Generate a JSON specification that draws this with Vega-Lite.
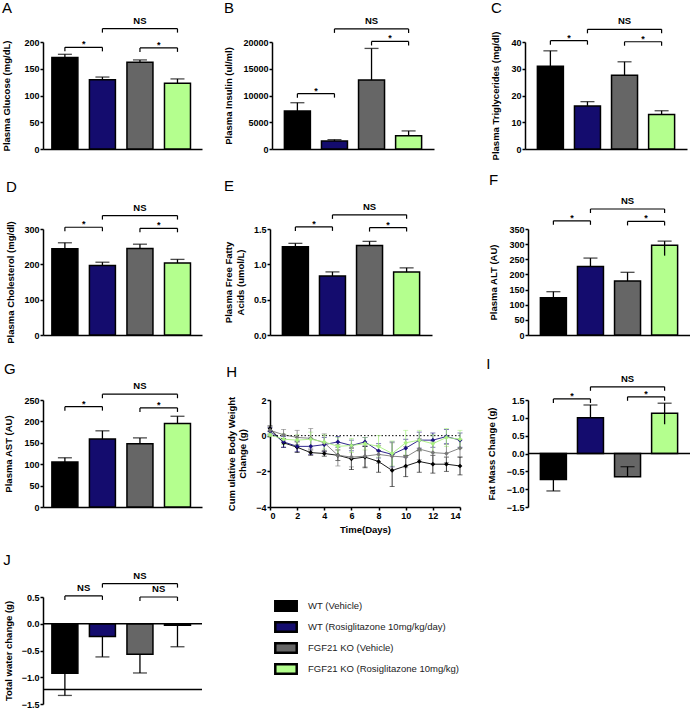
{
"$schema": "https://vega.github.io/schema/vega-lite/v6.json",
"padding": {"left": 1, "top": 0, "right": 0, "bottom": 0},
"background": "white",
"resolve": {"legend": {"fill": "independent"}},
"config": {
  "font": "Liberation Sans",
  "view": {"stroke": null},
  "title": {"fontSize": 15, "fontWeight": "normal", "anchor": "start", "color": "black", "font": "Liberation Sans"},
  "axis": {"domainColor": "black", "domainWidth": 1.5, "tickColor": "black", "tickWidth": 1.5, "tickSize": 3, "labelPadding": 1, "labelFontSize": 9, "labelFontWeight": "bold", "labelColor": "black", "titleFontSize": 9.5, "titleFontWeight": "bold", "titleColor": "black", "grid": false, "labelFont": "Liberation Sans", "titleFont": "Liberation Sans"}
},
"datasets": {
  "bars": [
    {"panel": "A", "g": 1, "group": "WT (Vehicle)", "mean": 171, "cap": 177, "tail": 171},
    {"panel": "A", "g": 2, "group": "WT (Rosiglitazone 10mg/kg/day)", "mean": 129.5, "cap": 134.5, "tail": 129.5},
    {"panel": "A", "g": 3, "group": "FGF21 KO (Vehicle)", "mean": 162, "cap": 166.5, "tail": 162},
    {"panel": "A", "g": 4, "group": "FGF21 KO (Rosiglitazone 10mg/kg)", "mean": 123, "cap": 131, "tail": 123},
    {"panel": "B", "g": 1, "group": "WT (Vehicle)", "mean": 7100, "cap": 8650, "tail": 7100},
    {"panel": "B", "g": 2, "group": "WT (Rosiglitazone 10mg/kg/day)", "mean": 1500, "cap": 1750, "tail": 1500},
    {"panel": "B", "g": 3, "group": "FGF21 KO (Vehicle)", "mean": 12900, "cap": 18800, "tail": 12900},
    {"panel": "B", "g": 4, "group": "FGF21 KO (Rosiglitazone 10mg/kg)", "mean": 2500, "cap": 3380, "tail": 2500},
    {"panel": "C", "g": 1, "group": "WT (Vehicle)", "mean": 30.9, "cap": 36.7, "tail": 30.9},
    {"panel": "C", "g": 2, "group": "WT (Rosiglitazone 10mg/kg/day)", "mean": 16.1, "cap": 17.7, "tail": 16.1},
    {"panel": "C", "g": 3, "group": "FGF21 KO (Vehicle)", "mean": 27.6, "cap": 32.6, "tail": 27.6},
    {"panel": "C", "g": 4, "group": "FGF21 KO (Rosiglitazone 10mg/kg)", "mean": 12.9, "cap": 14.3, "tail": 12.9},
    {"panel": "D", "g": 1, "group": "WT (Vehicle)", "mean": 244, "cap": 261, "tail": 244},
    {"panel": "D", "g": 2, "group": "WT (Rosiglitazone 10mg/kg/day)", "mean": 197, "cap": 206, "tail": 197},
    {"panel": "D", "g": 3, "group": "FGF21 KO (Vehicle)", "mean": 245, "cap": 257, "tail": 245},
    {"panel": "D", "g": 4, "group": "FGF21 KO (Rosiglitazone 10mg/kg)", "mean": 204, "cap": 214, "tail": 204},
    {"panel": "E", "g": 1, "group": "WT (Vehicle)", "mean": 1.25, "cap": 1.297, "tail": 1.25},
    {"panel": "E", "g": 2, "group": "WT (Rosiglitazone 10mg/kg/day)", "mean": 0.835, "cap": 0.893, "tail": 0.835},
    {"panel": "E", "g": 3, "group": "FGF21 KO (Vehicle)", "mean": 1.265, "cap": 1.325, "tail": 1.265},
    {"panel": "E", "g": 4, "group": "FGF21 KO (Rosiglitazone 10mg/kg)", "mean": 0.89, "cap": 0.95, "tail": 0.89},
    {"panel": "F", "g": 1, "group": "WT (Vehicle)", "mean": 123, "cap": 143, "tail": 123},
    {"panel": "F", "g": 2, "group": "WT (Rosiglitazone 10mg/kg/day)", "mean": 226, "cap": 254, "tail": 226},
    {"panel": "F", "g": 3, "group": "FGF21 KO (Vehicle)", "mean": 178, "cap": 207, "tail": 178},
    {"panel": "F", "g": 4, "group": "FGF21 KO (Rosiglitazone 10mg/kg)", "mean": 296, "cap": 310, "tail": 262},
    {"panel": "G", "g": 1, "group": "WT (Vehicle)", "mean": 105, "cap": 115, "tail": 105},
    {"panel": "G", "g": 2, "group": "WT (Rosiglitazone 10mg/kg/day)", "mean": 159, "cap": 178, "tail": 159},
    {"panel": "G", "g": 3, "group": "FGF21 KO (Vehicle)", "mean": 147.5, "cap": 161.5, "tail": 147.5},
    {"panel": "G", "g": 4, "group": "FGF21 KO (Rosiglitazone 10mg/kg)", "mean": 195, "cap": 212, "tail": 195},
    {"panel": "I", "g": 1, "group": "WT (Vehicle)", "mean": -0.73, "cap": -1.05, "tail": -0.73},
    {"panel": "I", "g": 2, "group": "WT (Rosiglitazone 10mg/kg/day)", "mean": 1.0, "cap": 1.36, "tail": 1.0},
    {"panel": "I", "g": 3, "group": "FGF21 KO (Vehicle)", "mean": -0.65, "cap": -0.37, "tail": -0.65},
    {"panel": "I", "g": 4, "group": "FGF21 KO (Rosiglitazone 10mg/kg)", "mean": 1.13, "cap": 1.41, "tail": 0.82},
    {"panel": "J", "g": 1, "group": "WT (Vehicle)", "mean": -0.925, "cap": -1.34, "tail": -0.925},
    {"panel": "J", "g": 2, "group": "WT (Rosiglitazone 10mg/kg/day)", "mean": -0.24, "cap": -0.62, "tail": -0.24},
    {"panel": "J", "g": 3, "group": "FGF21 KO (Vehicle)", "mean": -0.57, "cap": -0.92, "tail": -0.57},
    {"panel": "J", "g": 4, "group": "FGF21 KO (Rosiglitazone 10mg/kg)", "mean": -0.03, "cap": -0.43, "tail": -0.03}
  ],
  "brackets": [
    {"panel": "A", "a": 1, "b": 2, "level": 190, "label": "*"},
    {"panel": "A", "a": 3, "b": 4, "level": 189, "label": "*"},
    {"panel": "A", "a": 2, "b": 4, "level": 225, "label": "NS"},
    {"panel": "B", "a": 1, "b": 2, "level": 10350, "label": "*"},
    {"panel": "B", "a": 3, "b": 4, "level": 20100, "label": "*"},
    {"panel": "B", "a": 2, "b": 4, "level": 22450, "label": "NS"},
    {"panel": "C", "a": 1, "b": 2, "level": 40.5, "label": "*"},
    {"panel": "C", "a": 3, "b": 4, "level": 40.1, "label": "*"},
    {"panel": "C", "a": 2, "b": 4, "level": 44.75, "label": "NS"},
    {"panel": "D", "a": 1, "b": 2, "level": 305, "label": "*"},
    {"panel": "D", "a": 3, "b": 4, "level": 302, "label": "*"},
    {"panel": "D", "a": 2, "b": 4, "level": 338, "label": "NS"},
    {"panel": "E", "a": 1, "b": 2, "level": 1.53, "label": "*"},
    {"panel": "E", "a": 3, "b": 4, "level": 1.52, "label": "*"},
    {"panel": "E", "a": 2, "b": 4, "level": 1.7, "label": "NS"},
    {"panel": "F", "a": 1, "b": 2, "level": 377, "label": "*"},
    {"panel": "F", "a": 3, "b": 4, "level": 375, "label": "*"},
    {"panel": "F", "a": 2, "b": 4, "level": 416, "label": "NS"},
    {"panel": "G", "a": 1, "b": 2, "level": 234.5, "label": "*"},
    {"panel": "G", "a": 3, "b": 4, "level": 231.5, "label": "*"},
    {"panel": "G", "a": 2, "b": 4, "level": 263.5, "label": "NS"},
    {"panel": "I", "a": 1, "b": 2, "level": 1.53, "label": "*"},
    {"panel": "I", "a": 3, "b": 4, "level": 1.59, "label": "*"},
    {"panel": "I", "a": 2, "b": 4, "level": 1.87, "label": "NS"},
    {"panel": "J", "a": 1, "b": 2, "level": 0.52, "label": "NS"},
    {"panel": "J", "a": 3, "b": 4, "level": 0.5, "label": "NS"},
    {"panel": "J", "a": 2, "b": 4, "level": 0.75, "label": "NS"}
  ],
  "weights": [
    {"day": 0, "group": "WT (Vehicle)", "mean": 0.4, "err": 0.15},
    {"day": 1, "group": "WT (Vehicle)", "mean": -0.4, "err": 0.25},
    {"day": 2, "group": "WT (Vehicle)", "mean": -0.65, "err": 0.3},
    {"day": 3, "group": "WT (Vehicle)", "mean": -0.95, "err": 0.15},
    {"day": 4, "group": "WT (Vehicle)", "mean": -1.0, "err": 0.15},
    {"day": 5, "group": "WT (Vehicle)", "mean": -1.1, "err": 0.3},
    {"day": 6, "group": "WT (Vehicle)", "mean": -1.3, "err": 0.6},
    {"day": 7, "group": "WT (Vehicle)", "mean": -1.2, "err": 0.6},
    {"day": 8, "group": "WT (Vehicle)", "mean": -1.45, "err": 0.6},
    {"day": 9, "group": "WT (Vehicle)", "mean": -1.95, "err": 0.9},
    {"day": 10, "group": "WT (Vehicle)", "mean": -1.7, "err": 0.6},
    {"day": 11, "group": "WT (Vehicle)", "mean": -1.45, "err": 0.6},
    {"day": 12, "group": "WT (Vehicle)", "mean": -1.6, "err": 0.5},
    {"day": 13, "group": "WT (Vehicle)", "mean": -1.6, "err": 0.4},
    {"day": 14, "group": "WT (Vehicle)", "mean": -1.7, "err": 0.5},
    {"day": 0, "group": "WT (Rosiglitazone 10mg/kg/day)", "mean": 0.25, "err": 0.2},
    {"day": 1, "group": "WT (Rosiglitazone 10mg/kg/day)", "mean": -0.35, "err": 0.3},
    {"day": 2, "group": "WT (Rosiglitazone 10mg/kg/day)", "mean": -0.6, "err": 0.3},
    {"day": 3, "group": "WT (Rosiglitazone 10mg/kg/day)", "mean": -0.6, "err": 0.45},
    {"day": 4, "group": "WT (Rosiglitazone 10mg/kg/day)", "mean": -0.5, "err": 0.4},
    {"day": 5, "group": "WT (Rosiglitazone 10mg/kg/day)", "mean": -0.35, "err": 0.3},
    {"day": 6, "group": "WT (Rosiglitazone 10mg/kg/day)", "mean": -0.55, "err": 0.3},
    {"day": 7, "group": "WT (Rosiglitazone 10mg/kg/day)", "mean": -0.35, "err": 0.25},
    {"day": 8, "group": "WT (Rosiglitazone 10mg/kg/day)", "mean": -0.85, "err": 0.4},
    {"day": 9, "group": "WT (Rosiglitazone 10mg/kg/day)", "mean": -1.05, "err": 0.7},
    {"day": 10, "group": "WT (Rosiglitazone 10mg/kg/day)", "mean": -0.7, "err": 0.5},
    {"day": 11, "group": "WT (Rosiglitazone 10mg/kg/day)", "mean": -0.25, "err": 0.45},
    {"day": 12, "group": "WT (Rosiglitazone 10mg/kg/day)", "mean": -0.25, "err": 0.4},
    {"day": 13, "group": "WT (Rosiglitazone 10mg/kg/day)", "mean": -0.05, "err": 0.4},
    {"day": 14, "group": "WT (Rosiglitazone 10mg/kg/day)", "mean": -0.25, "err": 0.4},
    {"day": 0, "group": "FGF21 KO (Vehicle)", "mean": 0.3, "err": 0.2},
    {"day": 1, "group": "FGF21 KO (Vehicle)", "mean": 0.05, "err": 0.3},
    {"day": 2, "group": "FGF21 KO (Vehicle)", "mean": -0.1, "err": 0.4},
    {"day": 3, "group": "FGF21 KO (Vehicle)", "mean": -0.15, "err": 0.55},
    {"day": 4, "group": "FGF21 KO (Vehicle)", "mean": -0.4, "err": 0.5},
    {"day": 5, "group": "FGF21 KO (Vehicle)", "mean": -1.1, "err": 0.6},
    {"day": 6, "group": "FGF21 KO (Vehicle)", "mean": -1.2, "err": 0.55},
    {"day": 7, "group": "FGF21 KO (Vehicle)", "mean": -1.15, "err": 0.6},
    {"day": 8, "group": "FGF21 KO (Vehicle)", "mean": -1.05, "err": 0.5},
    {"day": 9, "group": "FGF21 KO (Vehicle)", "mean": -1.15, "err": 0.75},
    {"day": 10, "group": "FGF21 KO (Vehicle)", "mean": -1.2, "err": 0.6},
    {"day": 11, "group": "FGF21 KO (Vehicle)", "mean": -0.75, "err": 0.6},
    {"day": 12, "group": "FGF21 KO (Vehicle)", "mean": -0.95, "err": 0.6},
    {"day": 13, "group": "FGF21 KO (Vehicle)", "mean": -1.0, "err": 0.5},
    {"day": 14, "group": "FGF21 KO (Vehicle)", "mean": -0.7, "err": 0.5},
    {"day": 0, "group": "FGF21 KO (Rosiglitazone 10mg/kg)", "mean": 0.05, "err": 0.1},
    {"day": 1, "group": "FGF21 KO (Rosiglitazone 10mg/kg)", "mean": -0.2, "err": 0.3},
    {"day": 2, "group": "FGF21 KO (Rosiglitazone 10mg/kg)", "mean": -0.25, "err": 0.3},
    {"day": 3, "group": "FGF21 KO (Rosiglitazone 10mg/kg)", "mean": -0.2, "err": 0.4},
    {"day": 4, "group": "FGF21 KO (Rosiglitazone 10mg/kg)", "mean": -0.35, "err": 0.4},
    {"day": 5, "group": "FGF21 KO (Rosiglitazone 10mg/kg)", "mean": -0.6, "err": 0.5},
    {"day": 6, "group": "FGF21 KO (Rosiglitazone 10mg/kg)", "mean": -0.55, "err": 0.4},
    {"day": 7, "group": "FGF21 KO (Rosiglitazone 10mg/kg)", "mean": -0.45, "err": 0.35},
    {"day": 8, "group": "FGF21 KO (Rosiglitazone 10mg/kg)", "mean": -0.6, "err": 0.6},
    {"day": 9, "group": "FGF21 KO (Rosiglitazone 10mg/kg)", "mean": -1.0, "err": 0.7},
    {"day": 10, "group": "FGF21 KO (Rosiglitazone 10mg/kg)", "mean": -0.4, "err": 0.7},
    {"day": 11, "group": "FGF21 KO (Rosiglitazone 10mg/kg)", "mean": -0.25, "err": 0.55},
    {"day": 12, "group": "FGF21 KO (Rosiglitazone 10mg/kg)", "mean": -0.45, "err": 0.5},
    {"day": 13, "group": "FGF21 KO (Rosiglitazone 10mg/kg)", "mean": -0.1, "err": 0.5},
    {"day": 14, "group": "FGF21 KO (Rosiglitazone 10mg/kg)", "mean": -0.2, "err": 0.5}
  ]
},
"spacing": 18,
"vconcat": [
 {"spacing": 12, "vconcat": [
  {"spacing": 13, "vconcat": [
   {"spacing": 56, "hconcat": [
    {"spacing": 21, "hconcat": [
     {"title": {"text": "A", "offset": 0}, "width": 159, "height": 107, "layer": [
       {"data": {"name": "bars"}, "transform": [{"filter": "datum.panel === 'A'"}], "mark": {"type": "bar", "width": 26, "stroke": "black", "strokeWidth": 1.5},
        "encoding": {"x": {"field": "g", "type": "quantitative", "scale": {"domain": [0.55, 4.52], "nice": false, "zero": false}, "axis": {"labels": false, "ticks": false, "title": null}},
          "y": {"field": "mean", "type": "quantitative", "stack": null, "scale": {"domain": [0, 200], "nice": false}, "axis": {"title": "Plasma Glucose (mg/dL)", "values": [0, 50, 100, 150, 200], "tickCount": 12, "format": "d", "titlePadding": 12, "labelOverlap": false}},
          "fill": {"field": "group", "type": "nominal", "legend": null, "scale": {"domain": ["WT (Vehicle)", "WT (Rosiglitazone 10mg/kg/day)", "FGF21 KO (Vehicle)", "FGF21 KO (Rosiglitazone 10mg/kg)"], "range": ["#000000", "#140c6e", "#666666", "#b4ff8e"]}}}},
       {"data": {"name": "bars"}, "transform": [{"filter": "datum.panel === 'A'"}], "mark": {"type": "rule", "color": "black", "strokeWidth": 1.3},
        "encoding": {"x": {"field": "g", "type": "quantitative"}, "y": {"field": "tail", "type": "quantitative"}, "y2": {"field": "cap"}}},
       {"data": {"name": "bars"}, "transform": [{"filter": "datum.panel === 'A'"}], "mark": {"type": "tick", "orient": "horizontal", "color": "black", "size": 14, "thickness": 1.3},
        "encoding": {"x": {"field": "g", "type": "quantitative"}, "y": {"field": "cap", "type": "quantitative"}}},
       {"data": {"name": "brackets"}, "transform": [{"filter": "datum.panel === 'A'"}], "mark": {"type": "rule", "color": "black", "strokeWidth": 1.2},
        "encoding": {"x": {"field": "a", "type": "quantitative"}, "x2": {"field": "b"}, "y": {"field": "level", "type": "quantitative"}}},
       {"data": {"name": "brackets"}, "transform": [{"filter": "datum.panel === 'A'"}, {"fold": ["a", "b"], "as": ["end", "xpos"]}], "mark": {"type": "rule", "color": "black", "strokeWidth": 1.2, "y2Offset": 4},
        "encoding": {"x": {"field": "xpos", "type": "quantitative"}, "y": {"field": "level", "type": "quantitative"}, "y2": {"field": "level"}}},
       {"data": {"name": "brackets"}, "transform": [{"filter": "datum.panel === 'A' && datum.label === '*'"}, {"calculate": "(datum.a + datum.b) / 2", "as": "mid"}], "mark": {"type": "text", "fontWeight": "bold", "fontSize": 9, "baseline": "alphabetic", "dy": 0},
        "encoding": {"x": {"field": "mid", "type": "quantitative"}, "y": {"field": "level", "type": "quantitative"}, "text": {"field": "label"}}},
       {"data": {"name": "brackets"}, "transform": [{"filter": "datum.panel === 'A' && datum.label !== '*'"}, {"calculate": "(datum.a + datum.b) / 2", "as": "mid"}], "mark": {"type": "text", "fontWeight": "bold", "fontSize": 9.5, "baseline": "alphabetic", "dy": -5},
        "encoding": {"x": {"field": "mid", "type": "quantitative"}, "y": {"field": "level", "type": "quantitative"}, "text": {"field": "label"}}}
     ]},
     {"title": {"text": "B", "offset": 0}, "width": 162, "height": 107, "layer": [
       {"data": {"name": "bars"}, "transform": [{"filter": "datum.panel === 'B'"}], "mark": {"type": "bar", "width": 26, "stroke": "black", "strokeWidth": 1.5},
        "encoding": {"x": {"field": "g", "type": "quantitative", "scale": {"domain": [0.45, 4.55], "nice": false, "zero": false}, "axis": {"labels": false, "ticks": false, "title": null}},
          "y": {"field": "mean", "type": "quantitative", "stack": null, "scale": {"domain": [0, 20000], "nice": false}, "axis": {"title": "Plasma Insulin (ul/ml)", "values": [0, 5000, 10000, 15000, 20000], "tickCount": 12, "format": "d", "titlePadding": 9, "labelOverlap": false}},
          "fill": {"field": "group", "type": "nominal", "legend": null, "scale": {"domain": ["WT (Vehicle)", "WT (Rosiglitazone 10mg/kg/day)", "FGF21 KO (Vehicle)", "FGF21 KO (Rosiglitazone 10mg/kg)"], "range": ["#000000", "#140c6e", "#666666", "#b4ff8e"]}}}},
       {"data": {"name": "bars"}, "transform": [{"filter": "datum.panel === 'B'"}], "mark": {"type": "rule", "color": "black", "strokeWidth": 1.3},
        "encoding": {"x": {"field": "g", "type": "quantitative"}, "y": {"field": "tail", "type": "quantitative"}, "y2": {"field": "cap"}}},
       {"data": {"name": "bars"}, "transform": [{"filter": "datum.panel === 'B'"}], "mark": {"type": "tick", "orient": "horizontal", "color": "black", "size": 14, "thickness": 1.3},
        "encoding": {"x": {"field": "g", "type": "quantitative"}, "y": {"field": "cap", "type": "quantitative"}}},
       {"data": {"name": "brackets"}, "transform": [{"filter": "datum.panel === 'B'"}], "mark": {"type": "rule", "color": "black", "strokeWidth": 1.2},
        "encoding": {"x": {"field": "a", "type": "quantitative"}, "x2": {"field": "b"}, "y": {"field": "level", "type": "quantitative"}}},
       {"data": {"name": "brackets"}, "transform": [{"filter": "datum.panel === 'B'"}, {"fold": ["a", "b"], "as": ["end", "xpos"]}], "mark": {"type": "rule", "color": "black", "strokeWidth": 1.2, "y2Offset": 4},
        "encoding": {"x": {"field": "xpos", "type": "quantitative"}, "y": {"field": "level", "type": "quantitative"}, "y2": {"field": "level"}}},
       {"data": {"name": "brackets"}, "transform": [{"filter": "datum.panel === 'B' && datum.label === '*'"}, {"calculate": "(datum.a + datum.b) / 2", "as": "mid"}], "mark": {"type": "text", "fontWeight": "bold", "fontSize": 9, "baseline": "alphabetic", "dy": 0},
        "encoding": {"x": {"field": "mid", "type": "quantitative"}, "y": {"field": "level", "type": "quantitative"}, "text": {"field": "label"}}},
       {"data": {"name": "brackets"}, "transform": [{"filter": "datum.panel === 'B' && datum.label !== '*'"}, {"calculate": "(datum.a + datum.b) / 2", "as": "mid"}], "mark": {"type": "text", "fontWeight": "bold", "fontSize": 9.5, "baseline": "alphabetic", "dy": -5},
        "encoding": {"x": {"field": "mid", "type": "quantitative"}, "y": {"field": "level", "type": "quantitative"}, "text": {"field": "label"}}}
     ]}
    ]},
    {"title": {"text": "C", "offset": 0}, "width": 162, "height": 107, "layer": [
       {"data": {"name": "bars"}, "transform": [{"filter": "datum.panel === 'C'"}], "mark": {"type": "bar", "width": 26, "stroke": "black", "strokeWidth": 1.5},
        "encoding": {"x": {"field": "g", "type": "quantitative", "scale": {"domain": [0.45, 4.55], "nice": false, "zero": false}, "axis": {"labels": false, "ticks": false, "title": null}},
          "y": {"field": "mean", "type": "quantitative", "stack": null, "scale": {"domain": [0, 40], "nice": false}, "axis": {"title": "Plasma Triglycerides (mg/dl)", "values": [0, 10, 20, 30, 40], "tickCount": 12, "format": "d", "titlePadding": 10, "labelOverlap": false}},
          "fill": {"field": "group", "type": "nominal", "legend": null, "scale": {"domain": ["WT (Vehicle)", "WT (Rosiglitazone 10mg/kg/day)", "FGF21 KO (Vehicle)", "FGF21 KO (Rosiglitazone 10mg/kg)"], "range": ["#000000", "#140c6e", "#666666", "#b4ff8e"]}}}},
       {"data": {"name": "bars"}, "transform": [{"filter": "datum.panel === 'C'"}], "mark": {"type": "rule", "color": "black", "strokeWidth": 1.3},
        "encoding": {"x": {"field": "g", "type": "quantitative"}, "y": {"field": "tail", "type": "quantitative"}, "y2": {"field": "cap"}}},
       {"data": {"name": "bars"}, "transform": [{"filter": "datum.panel === 'C'"}], "mark": {"type": "tick", "orient": "horizontal", "color": "black", "size": 14, "thickness": 1.3},
        "encoding": {"x": {"field": "g", "type": "quantitative"}, "y": {"field": "cap", "type": "quantitative"}}},
       {"data": {"name": "brackets"}, "transform": [{"filter": "datum.panel === 'C'"}], "mark": {"type": "rule", "color": "black", "strokeWidth": 1.2},
        "encoding": {"x": {"field": "a", "type": "quantitative"}, "x2": {"field": "b"}, "y": {"field": "level", "type": "quantitative"}}},
       {"data": {"name": "brackets"}, "transform": [{"filter": "datum.panel === 'C'"}, {"fold": ["a", "b"], "as": ["end", "xpos"]}], "mark": {"type": "rule", "color": "black", "strokeWidth": 1.2, "y2Offset": 4},
        "encoding": {"x": {"field": "xpos", "type": "quantitative"}, "y": {"field": "level", "type": "quantitative"}, "y2": {"field": "level"}}},
       {"data": {"name": "brackets"}, "transform": [{"filter": "datum.panel === 'C' && datum.label === '*'"}, {"calculate": "(datum.a + datum.b) / 2", "as": "mid"}], "mark": {"type": "text", "fontWeight": "bold", "fontSize": 9, "baseline": "alphabetic", "dy": 0},
        "encoding": {"x": {"field": "mid", "type": "quantitative"}, "y": {"field": "level", "type": "quantitative"}, "text": {"field": "label"}}},
       {"data": {"name": "brackets"}, "transform": [{"filter": "datum.panel === 'C' && datum.label !== '*'"}, {"calculate": "(datum.a + datum.b) / 2", "as": "mid"}], "mark": {"type": "text", "fontWeight": "bold", "fontSize": 9.5, "baseline": "alphabetic", "dy": -5},
        "encoding": {"x": {"field": "mid", "type": "quantitative"}, "y": {"field": "level", "type": "quantitative"}, "text": {"field": "label"}}}
    ]}
   ]},
   {"spacing": 56, "hconcat": [
    {"spacing": 21, "hconcat": [
     {"title": {"text": "D", "offset": 8}, "width": 159, "height": 106, "layer": [
       {"data": {"name": "bars"}, "transform": [{"filter": "datum.panel === 'D'"}], "mark": {"type": "bar", "width": 26, "stroke": "black", "strokeWidth": 1.5},
        "encoding": {"x": {"field": "g", "type": "quantitative", "scale": {"domain": [0.55, 4.52], "nice": false, "zero": false}, "axis": {"labels": false, "ticks": false, "title": null}},
          "y": {"field": "mean", "type": "quantitative", "stack": null, "scale": {"domain": [0, 300], "nice": false}, "axis": {"title": "Plasma Cholesterol (mg/dl)", "values": [0, 100, 200, 300], "tickCount": 12, "format": "d", "titlePadding": 8, "labelOverlap": false}},
          "fill": {"field": "group", "type": "nominal", "legend": null, "scale": {"domain": ["WT (Vehicle)", "WT (Rosiglitazone 10mg/kg/day)", "FGF21 KO (Vehicle)", "FGF21 KO (Rosiglitazone 10mg/kg)"], "range": ["#000000", "#140c6e", "#666666", "#b4ff8e"]}}}},
       {"data": {"name": "bars"}, "transform": [{"filter": "datum.panel === 'D'"}], "mark": {"type": "rule", "color": "black", "strokeWidth": 1.3},
        "encoding": {"x": {"field": "g", "type": "quantitative"}, "y": {"field": "tail", "type": "quantitative"}, "y2": {"field": "cap"}}},
       {"data": {"name": "bars"}, "transform": [{"filter": "datum.panel === 'D'"}], "mark": {"type": "tick", "orient": "horizontal", "color": "black", "size": 14, "thickness": 1.3},
        "encoding": {"x": {"field": "g", "type": "quantitative"}, "y": {"field": "cap", "type": "quantitative"}}},
       {"data": {"name": "brackets"}, "transform": [{"filter": "datum.panel === 'D'"}], "mark": {"type": "rule", "color": "black", "strokeWidth": 1.2},
        "encoding": {"x": {"field": "a", "type": "quantitative"}, "x2": {"field": "b"}, "y": {"field": "level", "type": "quantitative"}}},
       {"data": {"name": "brackets"}, "transform": [{"filter": "datum.panel === 'D'"}, {"fold": ["a", "b"], "as": ["end", "xpos"]}], "mark": {"type": "rule", "color": "black", "strokeWidth": 1.2, "y2Offset": 4},
        "encoding": {"x": {"field": "xpos", "type": "quantitative"}, "y": {"field": "level", "type": "quantitative"}, "y2": {"field": "level"}}},
       {"data": {"name": "brackets"}, "transform": [{"filter": "datum.panel === 'D' && datum.label === '*'"}, {"calculate": "(datum.a + datum.b) / 2", "as": "mid"}], "mark": {"type": "text", "fontWeight": "bold", "fontSize": 9, "baseline": "alphabetic", "dy": 0},
        "encoding": {"x": {"field": "mid", "type": "quantitative"}, "y": {"field": "level", "type": "quantitative"}, "text": {"field": "label"}}},
       {"data": {"name": "brackets"}, "transform": [{"filter": "datum.panel === 'D' && datum.label !== '*'"}, {"calculate": "(datum.a + datum.b) / 2", "as": "mid"}], "mark": {"type": "text", "fontWeight": "bold", "fontSize": 9.5, "baseline": "alphabetic", "dy": -5},
        "encoding": {"x": {"field": "mid", "type": "quantitative"}, "y": {"field": "level", "type": "quantitative"}, "text": {"field": "label"}}}
     ]},
     {"title": {"text": "E", "offset": 8}, "width": 162, "height": 106, "layer": [
       {"data": {"name": "bars"}, "transform": [{"filter": "datum.panel === 'E'"}], "mark": {"type": "bar", "width": 26, "stroke": "black", "strokeWidth": 1.5},
        "encoding": {"x": {"field": "g", "type": "quantitative", "scale": {"domain": [0.45, 4.55], "nice": false, "zero": false}, "axis": {"labels": false, "ticks": false, "title": null}},
          "y": {"field": "mean", "type": "quantitative", "stack": null, "scale": {"domain": [0, 1.5], "nice": false}, "axis": {"title": ["Plasma Free Fatty", "Acids (umol/L)"], "values": [0, 0.5, 1, 1.5], "tickCount": 12, "format": ".1f", "titlePadding": 8, "labelOverlap": false}},
          "fill": {"field": "group", "type": "nominal", "legend": null, "scale": {"domain": ["WT (Vehicle)", "WT (Rosiglitazone 10mg/kg/day)", "FGF21 KO (Vehicle)", "FGF21 KO (Rosiglitazone 10mg/kg)"], "range": ["#000000", "#140c6e", "#666666", "#b4ff8e"]}}}},
       {"data": {"name": "bars"}, "transform": [{"filter": "datum.panel === 'E'"}], "mark": {"type": "rule", "color": "black", "strokeWidth": 1.3},
        "encoding": {"x": {"field": "g", "type": "quantitative"}, "y": {"field": "tail", "type": "quantitative"}, "y2": {"field": "cap"}}},
       {"data": {"name": "bars"}, "transform": [{"filter": "datum.panel === 'E'"}], "mark": {"type": "tick", "orient": "horizontal", "color": "black", "size": 14, "thickness": 1.3},
        "encoding": {"x": {"field": "g", "type": "quantitative"}, "y": {"field": "cap", "type": "quantitative"}}},
       {"data": {"name": "brackets"}, "transform": [{"filter": "datum.panel === 'E'"}], "mark": {"type": "rule", "color": "black", "strokeWidth": 1.2},
        "encoding": {"x": {"field": "a", "type": "quantitative"}, "x2": {"field": "b"}, "y": {"field": "level", "type": "quantitative"}}},
       {"data": {"name": "brackets"}, "transform": [{"filter": "datum.panel === 'E'"}, {"fold": ["a", "b"], "as": ["end", "xpos"]}], "mark": {"type": "rule", "color": "black", "strokeWidth": 1.2, "y2Offset": 4},
        "encoding": {"x": {"field": "xpos", "type": "quantitative"}, "y": {"field": "level", "type": "quantitative"}, "y2": {"field": "level"}}},
       {"data": {"name": "brackets"}, "transform": [{"filter": "datum.panel === 'E' && datum.label === '*'"}, {"calculate": "(datum.a + datum.b) / 2", "as": "mid"}], "mark": {"type": "text", "fontWeight": "bold", "fontSize": 9, "baseline": "alphabetic", "dy": 0},
        "encoding": {"x": {"field": "mid", "type": "quantitative"}, "y": {"field": "level", "type": "quantitative"}, "text": {"field": "label"}}},
       {"data": {"name": "brackets"}, "transform": [{"filter": "datum.panel === 'E' && datum.label !== '*'"}, {"calculate": "(datum.a + datum.b) / 2", "as": "mid"}], "mark": {"type": "text", "fontWeight": "bold", "fontSize": 9.5, "baseline": "alphabetic", "dy": -5},
        "encoding": {"x": {"field": "mid", "type": "quantitative"}, "y": {"field": "level", "type": "quantitative"}, "text": {"field": "label"}}}
     ]}
    ]},
    {"title": {"text": "F", "offset": 8}, "width": 162, "height": 106, "layer": [
       {"data": {"name": "bars"}, "transform": [{"filter": "datum.panel === 'F'"}], "mark": {"type": "bar", "width": 26, "stroke": "black", "strokeWidth": 1.5},
        "encoding": {"x": {"field": "g", "type": "quantitative", "scale": {"domain": [0.45, 4.55], "nice": false, "zero": false}, "axis": {"labels": false, "ticks": false, "title": null}},
          "y": {"field": "mean", "type": "quantitative", "stack": null, "scale": {"domain": [0, 350], "nice": false}, "axis": {"title": "Plasma ALT (AU)", "values": [0, 50, 100, 150, 200, 250, 300, 350], "tickCount": 12, "format": "d", "titlePadding": 10, "labelOverlap": false}},
          "fill": {"field": "group", "type": "nominal", "legend": null, "scale": {"domain": ["WT (Vehicle)", "WT (Rosiglitazone 10mg/kg/day)", "FGF21 KO (Vehicle)", "FGF21 KO (Rosiglitazone 10mg/kg)"], "range": ["#000000", "#140c6e", "#666666", "#b4ff8e"]}}}},
       {"data": {"name": "bars"}, "transform": [{"filter": "datum.panel === 'F'"}], "mark": {"type": "rule", "color": "black", "strokeWidth": 1.3},
        "encoding": {"x": {"field": "g", "type": "quantitative"}, "y": {"field": "tail", "type": "quantitative"}, "y2": {"field": "cap"}}},
       {"data": {"name": "bars"}, "transform": [{"filter": "datum.panel === 'F'"}], "mark": {"type": "tick", "orient": "horizontal", "color": "black", "size": 14, "thickness": 1.3},
        "encoding": {"x": {"field": "g", "type": "quantitative"}, "y": {"field": "cap", "type": "quantitative"}}},
       {"data": {"name": "brackets"}, "transform": [{"filter": "datum.panel === 'F'"}], "mark": {"type": "rule", "color": "black", "strokeWidth": 1.2},
        "encoding": {"x": {"field": "a", "type": "quantitative"}, "x2": {"field": "b"}, "y": {"field": "level", "type": "quantitative"}}},
       {"data": {"name": "brackets"}, "transform": [{"filter": "datum.panel === 'F'"}, {"fold": ["a", "b"], "as": ["end", "xpos"]}], "mark": {"type": "rule", "color": "black", "strokeWidth": 1.2, "y2Offset": 4},
        "encoding": {"x": {"field": "xpos", "type": "quantitative"}, "y": {"field": "level", "type": "quantitative"}, "y2": {"field": "level"}}},
       {"data": {"name": "brackets"}, "transform": [{"filter": "datum.panel === 'F' && datum.label === '*'"}, {"calculate": "(datum.a + datum.b) / 2", "as": "mid"}], "mark": {"type": "text", "fontWeight": "bold", "fontSize": 9, "baseline": "alphabetic", "dy": 0},
        "encoding": {"x": {"field": "mid", "type": "quantitative"}, "y": {"field": "level", "type": "quantitative"}, "text": {"field": "label"}}},
       {"data": {"name": "brackets"}, "transform": [{"filter": "datum.panel === 'F' && datum.label !== '*'"}, {"calculate": "(datum.a + datum.b) / 2", "as": "mid"}], "mark": {"type": "text", "fontWeight": "bold", "fontSize": 9.5, "baseline": "alphabetic", "dy": -5},
        "encoding": {"x": {"field": "mid", "type": "quantitative"}, "y": {"field": "level", "type": "quantitative"}, "text": {"field": "label"}}}
    ]}
   ]}
  ]},
  {"spacing": 23, "hconcat": [
   {"spacing": 24, "hconcat": [
     {"title": {"text": "G", "offset": 4}, "width": 159, "height": 107, "layer": [
       {"data": {"name": "bars"}, "transform": [{"filter": "datum.panel === 'G'"}], "mark": {"type": "bar", "width": 26, "stroke": "black", "strokeWidth": 1.5},
        "encoding": {"x": {"field": "g", "type": "quantitative", "scale": {"domain": [0.55, 4.52], "nice": false, "zero": false}, "axis": {"labels": false, "ticks": false, "title": null}},
          "y": {"field": "mean", "type": "quantitative", "stack": null, "scale": {"domain": [0, 250], "nice": false}, "axis": {"title": "Plasma AST (AU)", "values": [0, 50, 100, 150, 200, 250], "tickCount": 12, "format": "d", "titlePadding": 10, "labelOverlap": false}},
          "fill": {"field": "group", "type": "nominal", "legend": null, "scale": {"domain": ["WT (Vehicle)", "WT (Rosiglitazone 10mg/kg/day)", "FGF21 KO (Vehicle)", "FGF21 KO (Rosiglitazone 10mg/kg)"], "range": ["#000000", "#140c6e", "#666666", "#b4ff8e"]}}}},
       {"data": {"name": "bars"}, "transform": [{"filter": "datum.panel === 'G'"}], "mark": {"type": "rule", "color": "black", "strokeWidth": 1.3},
        "encoding": {"x": {"field": "g", "type": "quantitative"}, "y": {"field": "tail", "type": "quantitative"}, "y2": {"field": "cap"}}},
       {"data": {"name": "bars"}, "transform": [{"filter": "datum.panel === 'G'"}], "mark": {"type": "tick", "orient": "horizontal", "color": "black", "size": 14, "thickness": 1.3},
        "encoding": {"x": {"field": "g", "type": "quantitative"}, "y": {"field": "cap", "type": "quantitative"}}},
       {"data": {"name": "brackets"}, "transform": [{"filter": "datum.panel === 'G'"}], "mark": {"type": "rule", "color": "black", "strokeWidth": 1.2},
        "encoding": {"x": {"field": "a", "type": "quantitative"}, "x2": {"field": "b"}, "y": {"field": "level", "type": "quantitative"}}},
       {"data": {"name": "brackets"}, "transform": [{"filter": "datum.panel === 'G'"}, {"fold": ["a", "b"], "as": ["end", "xpos"]}], "mark": {"type": "rule", "color": "black", "strokeWidth": 1.2, "y2Offset": 4},
        "encoding": {"x": {"field": "xpos", "type": "quantitative"}, "y": {"field": "level", "type": "quantitative"}, "y2": {"field": "level"}}},
       {"data": {"name": "brackets"}, "transform": [{"filter": "datum.panel === 'G' && datum.label === '*'"}, {"calculate": "(datum.a + datum.b) / 2", "as": "mid"}], "mark": {"type": "text", "fontWeight": "bold", "fontSize": 9, "baseline": "alphabetic", "dy": 0},
        "encoding": {"x": {"field": "mid", "type": "quantitative"}, "y": {"field": "level", "type": "quantitative"}, "text": {"field": "label"}}},
       {"data": {"name": "brackets"}, "transform": [{"filter": "datum.panel === 'G' && datum.label !== '*'"}, {"calculate": "(datum.a + datum.b) / 2", "as": "mid"}], "mark": {"type": "text", "fontWeight": "bold", "fontSize": 9.5, "baseline": "alphabetic", "dy": -5},
        "encoding": {"x": {"field": "mid", "type": "quantitative"}, "y": {"field": "level", "type": "quantitative"}, "text": {"field": "label"}}}
     ]},
     {"title": {"text": "H", "offset": 16}, "width": 190, "height": 107, "layer": [
       {"data": {"name": "weights"}, "mark": {"type": "line", "strokeWidth": 0.9},
        "encoding": {"x": {"field": "day", "type": "quantitative", "scale": {"domain": [0, 14], "nice": false}, "axis": {"values": [0, 2, 4, 6, 8, 10, 12, 14], "tickCount": 12, "title": "Time(Days)", "format": "d", "titlePadding": 4, "labelOverlap": false}},
          "y": {"field": "mean", "type": "quantitative", "scale": {"domain": [-4, 2], "nice": false}, "axis": {"title": ["Cum ulative Body Weight", "Change (g)"], "values": [-4, -2, 0, 2], "tickCount": 12, "format": "d", "titlePadding": 8, "labelOverlap": false}},
          "color": {"field": "group", "type": "nominal", "legend": null, "scale": {"domain": ["WT (Vehicle)", "WT (Rosiglitazone 10mg/kg/day)", "FGF21 KO (Vehicle)", "FGF21 KO (Rosiglitazone 10mg/kg)"], "range": ["#000000", "#1a1080", "#777777", "#a8f080"]}}}},
       {"data": {"values": [{}]}, "mark": {"type": "rule", "color": "black", "strokeWidth": 1, "strokeDash": [1.5, 2]},
        "encoding": {"y": {"datum": 0, "type": "quantitative"}}},
       {"data": {"name": "weights"}, "mark": {"type": "errorbar", "ticks": true, "size": 5, "thickness": 0.8},
        "encoding": {"x": {"field": "day", "type": "quantitative", "title": "Time(Days)"}, "y": {"field": "mean", "type": "quantitative", "title": ["Cum ulative Body Weight", "Change (g)"]}, "yError": {"field": "err"},
          "color": {"field": "group", "type": "nominal", "legend": null, "scale": {"domain": ["WT (Vehicle)", "WT (Rosiglitazone 10mg/kg/day)", "FGF21 KO (Vehicle)", "FGF21 KO (Rosiglitazone 10mg/kg)"], "range": ["#000000", "#1a1080", "#777777", "#a8f080"]}}}},
       {"data": {"name": "weights"}, "mark": {"type": "point", "shape": "diamond", "filled": true, "size": 22, "opacity": 1},
        "encoding": {"x": {"field": "day", "type": "quantitative"}, "y": {"field": "mean", "type": "quantitative"},
          "color": {"field": "group", "type": "nominal", "legend": null, "scale": {"domain": ["WT (Vehicle)", "WT (Rosiglitazone 10mg/kg/day)", "FGF21 KO (Vehicle)", "FGF21 KO (Rosiglitazone 10mg/kg)"], "range": ["#000000", "#1a1080", "#777777", "#a8f080"]}}}}
     ]}
   ]},
   {"title": {"text": "I", "offset": 2}, "width": 162, "height": 107, "layer": [
       {"data": {"name": "bars"}, "transform": [{"filter": "datum.panel === 'I'"}], "mark": {"type": "bar", "width": 26, "stroke": "black", "strokeWidth": 1.5},
        "encoding": {"x": {"field": "g", "type": "quantitative", "scale": {"domain": [0.45, 4.55], "nice": false, "zero": false}, "axis": null},
          "y": {"field": "mean", "type": "quantitative", "stack": null, "scale": {"domain": [-1.5, 1.5], "nice": false}, "axis": {"title": "Fat Mass Change (g)", "values": [-1.5, -1, -0.5, 0, 0.5, 1, 1.5], "tickCount": 12, "format": ".1f", "titlePadding": 10, "labelOverlap": false}},
          "fill": {"field": "group", "type": "nominal", "legend": null, "scale": {"domain": ["WT (Vehicle)", "WT (Rosiglitazone 10mg/kg/day)", "FGF21 KO (Vehicle)", "FGF21 KO (Rosiglitazone 10mg/kg)"], "range": ["#000000", "#140c6e", "#666666", "#b4ff8e"]}}}},
       {"data": {"values": [{}]}, "mark": {"type": "rule", "color": "black", "strokeWidth": 1.5},
        "encoding": {"y": {"datum": 0, "type": "quantitative"}}},
       {"data": {"name": "bars"}, "transform": [{"filter": "datum.panel === 'I'"}], "mark": {"type": "rule", "color": "black", "strokeWidth": 1.3},
        "encoding": {"x": {"field": "g", "type": "quantitative", "axis": null}, "y": {"field": "tail", "type": "quantitative"}, "y2": {"field": "cap"}}},
       {"data": {"name": "bars"}, "transform": [{"filter": "datum.panel === 'I'"}], "mark": {"type": "tick", "orient": "horizontal", "color": "black", "size": 14, "thickness": 1.3},
        "encoding": {"x": {"field": "g", "type": "quantitative", "axis": null}, "y": {"field": "cap", "type": "quantitative"}}},
       {"data": {"name": "brackets"}, "transform": [{"filter": "datum.panel === 'I'"}], "mark": {"type": "rule", "color": "black", "strokeWidth": 1.2},
        "encoding": {"x": {"field": "a", "type": "quantitative", "axis": null}, "x2": {"field": "b"}, "y": {"field": "level", "type": "quantitative"}}},
       {"data": {"name": "brackets"}, "transform": [{"filter": "datum.panel === 'I'"}, {"fold": ["a", "b"], "as": ["end", "xpos"]}], "mark": {"type": "rule", "color": "black", "strokeWidth": 1.2, "y2Offset": 4},
        "encoding": {"x": {"field": "xpos", "type": "quantitative", "axis": null}, "y": {"field": "level", "type": "quantitative"}, "y2": {"field": "level"}}},
       {"data": {"name": "brackets"}, "transform": [{"filter": "datum.panel === 'I' && datum.label === '*'"}, {"calculate": "(datum.a + datum.b) / 2", "as": "mid"}], "mark": {"type": "text", "fontWeight": "bold", "fontSize": 9, "baseline": "alphabetic", "dy": 0},
        "encoding": {"x": {"field": "mid", "type": "quantitative", "axis": null}, "y": {"field": "level", "type": "quantitative"}, "text": {"field": "label"}}},
       {"data": {"name": "brackets"}, "transform": [{"filter": "datum.panel === 'I' && datum.label !== '*'"}, {"calculate": "(datum.a + datum.b) / 2", "as": "mid"}], "mark": {"type": "text", "fontWeight": "bold", "fontSize": 9.5, "baseline": "alphabetic", "dy": -5},
        "encoding": {"x": {"field": "mid", "type": "quantitative", "axis": null}, "y": {"field": "level", "type": "quantitative"}, "text": {"field": "label"}}}
   ]}
  ]}
 ]},
 {"title": {"text": "J", "offset": 3}, "width": 159, "height": 107, "layer": [
   {"data": {"name": "bars"}, "transform": [{"filter": "datum.panel === 'J'"}], "mark": {"type": "bar", "width": 26, "stroke": "black", "strokeWidth": 1.5},
    "encoding": {"x": {"field": "g", "type": "quantitative", "scale": {"domain": [0.55, 4.52], "nice": false, "zero": false}, "axis": null},
      "y": {"field": "mean", "type": "quantitative", "stack": null, "scale": {"domain": [-1.5, 0.5], "nice": false}, "axis": {"title": "Total water change (g)", "values": [-1.5, -1, -0.5, 0, 0.5], "tickCount": 12, "format": ".1f", "titlePadding": 8, "labelOverlap": false}},
      "fill": {"field": "group", "type": "nominal", "title": null, "scale": {"domain": ["WT (Vehicle)", "WT (Rosiglitazone 10mg/kg/day)", "FGF21 KO (Vehicle)", "FGF21 KO (Rosiglitazone 10mg/kg)"], "range": ["#000000", "#140c6e", "#666666", "#b4ff8e"]},
        "legend": {"orient": "none", "legendX": 232, "legendY": -2, "padding": 0, "symbolType": "M-1.1,-0.5H1.1V0.5H-1.1Z", "symbolSize": 380, "symbolStrokeColor": "black", "symbolStrokeWidth": 2.5, "labelFontSize": 9.5, "labelFont": "Liberation Sans", "labelColor": "#222222", "labelOffset": 11, "rowPadding": 0, "labelLimit": 400}}}},
   {"data": {"values": [{}]}, "mark": {"type": "rule", "color": "black", "strokeWidth": 1.5},
    "encoding": {"y": {"datum": 0, "type": "quantitative"}}},
   {"data": {"values": [{}]}, "mark": {"type": "rule", "color": "black", "strokeWidth": 1.5},
    "encoding": {"y": {"datum": -1.23, "type": "quantitative"}}},
   {"data": {"name": "bars"}, "transform": [{"filter": "datum.panel === 'J'"}], "mark": {"type": "rule", "color": "black", "strokeWidth": 1.3},
    "encoding": {"x": {"field": "g", "type": "quantitative", "axis": null}, "y": {"field": "tail", "type": "quantitative"}, "y2": {"field": "cap"}}},
   {"data": {"name": "bars"}, "transform": [{"filter": "datum.panel === 'J'"}], "mark": {"type": "tick", "orient": "horizontal", "color": "black", "size": 14, "thickness": 1.3},
    "encoding": {"x": {"field": "g", "type": "quantitative", "axis": null}, "y": {"field": "cap", "type": "quantitative"}}},
   {"data": {"name": "brackets"}, "transform": [{"filter": "datum.panel === 'J'"}], "mark": {"type": "rule", "color": "black", "strokeWidth": 1.2},
    "encoding": {"x": {"field": "a", "type": "quantitative", "axis": null}, "x2": {"field": "b"}, "y": {"field": "level", "type": "quantitative"}}},
   {"data": {"name": "brackets"}, "transform": [{"filter": "datum.panel === 'J'"}, {"fold": ["a", "b"], "as": ["end", "xpos"]}], "mark": {"type": "rule", "color": "black", "strokeWidth": 1.2, "y2Offset": 4},
    "encoding": {"x": {"field": "xpos", "type": "quantitative", "axis": null}, "y": {"field": "level", "type": "quantitative"}, "y2": {"field": "level"}}},
   {"data": {"name": "brackets"}, "transform": [{"filter": "datum.panel === 'J'"}, {"calculate": "(datum.a + datum.b) / 2", "as": "mid"}], "mark": {"type": "text", "fontWeight": "bold", "fontSize": 9.5, "baseline": "alphabetic", "dy": -5},
    "encoding": {"x": {"field": "mid", "type": "quantitative", "axis": null}, "y": {"field": "level", "type": "quantitative"}, "text": {"field": "label"}}}
 ]}
]
}
